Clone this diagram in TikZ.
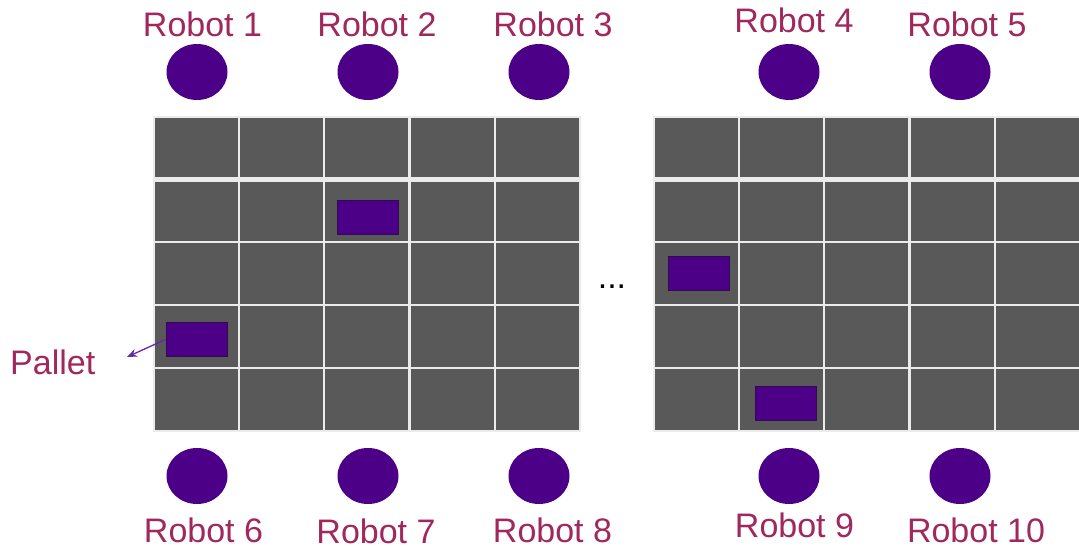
\documentclass[tikz,border=0pt]{standalone}
\usepackage{fontspec}
\setmainfont{Liberation Sans}
\usetikzlibrary{shapes.geometric,arrows.meta}
\begin{document}
\begin{tikzpicture}[x=1pt,y=-1pt,
  lbl/.style={text=labelc,font=\fontsize{34}{40}\selectfont,anchor=base,inner sep=0pt},
  robot/.style={ellipse,fill=robotc,draw=none,minimum width=61pt,minimum height=56pt,inner sep=0pt},
  pallet/.style={rectangle,fill=robotc,draw=palletb,line width=1pt,minimum width=61pt,minimum height=34pt,inner sep=0pt},
  cell/.style={fill=cellc,draw=linec,line width=2.4pt}]
\definecolor{labelc}{RGB}{160,40,92}
\definecolor{robotc}{RGB}{75,0,135}
\definecolor{palletb}{RGB}{50,10,80}
\definecolor{cellc}{RGB}{89,89,89}
\definecolor{linec}{RGB}{235,235,235}
\definecolor{arrowc}{RGB}{100,40,170}
\useasboundingbox (0,0) rectangle (1079,549);
\begin{scope}
\clip (0,0) rectangle (1079,549);
% grids
\foreach \xa/\xb in {154/239,239/324,324/409.5,409.5/495,495/580,654/739,739/824,824/909.5,909.5/995,995/1082}{
  \foreach \ya/\yb in {117/178,180.5/242,242/305,305/368,368/431}{
    \path[cell] (\xa,\ya) rectangle (\xb,\yb);
  }
}
\end{scope}
% robots
\node[robot] (r1) at (197,72) {};
\node[robot] (r2) at (368,72) {};
\node[robot] (r3) at (539,72) {};
\node[robot] (r4) at (789,72) {};
\node[robot] (r5) at (960,72) {};
\node[robot] (r6) at (197,476) {};
\node[robot] (r7) at (368,476) {};
\node[robot] (r8) at (539,476) {};
\node[robot] (r9) at (789,476) {};
\node[robot] (r10) at (960,476) {};
% labels
\node[lbl] (l1) at (202.5,36) {Robot 1};
\node[lbl] (l2) at (377,36) {Robot 2};
\node[lbl] (l3) at (553,36) {Robot 3};
\node[lbl] (l4) at (794,32) {Robot 4};
\node[lbl] (l5) at (967,36) {Robot 5};
\node[lbl] (l6) at (203.5,542) {Robot 6};
\node[lbl] (l7) at (376,543.5) {Robot 7};
\node[lbl] (l8) at (552.5,542) {Robot 8};
\node[lbl] (l9) at (794.5,537) {Robot 9};
\node[lbl] (l10) at (976,542) {Robot 10};
% pallets
\node[pallet] (p1) at (196.5,339.5) {};
\node[pallet] (p2) at (367.5,217.5) {};
\node[pallet] (p3) at (699,273) {};
\node[pallet] (p4) at (786,403) {};
% dots
\node[lbl,text=black] (dots) at (612,288) {...};
% pallet label
\node[lbl,anchor=base west] (pl) at (10,374) {Pallet};
\coordinate (tip) at (127,357);
\draw[arrowc,line width=1.3pt,-{Stealth[length=10pt,width=8pt]}] (p1.west) -- (tip);
\end{tikzpicture}
\end{document}
